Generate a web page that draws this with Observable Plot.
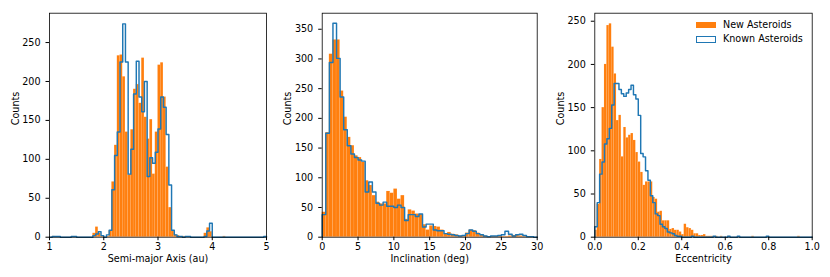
<!DOCTYPE html>
<html><head><meta charset="utf-8">
<script src="https://cdn.jsdelivr.net/npm/d3@7"></script>
<script src="https://cdn.jsdelivr.net/npm/@observablehq/plot@0.6"></script>
<style>
body{margin:0;background:#fff;}
#wrap{position:relative;width:830px;height:277px;font-family:"DejaVu Sans",sans-serif;}
#wrap svg{position:absolute;top:0;}
.lg{position:absolute;font-family:"DejaVu Sans",sans-serif;font-size:9.6px;line-height:12px;color:#000;white-space:nowrap;}
</style></head><body><div id="wrap"></div>
<script>
// ---- data ----
const seriesNames = ["New Asteroids", "Known Asteroids"];
const xLabels = ["Semi-major Axis (au)", "Inclination (deg)", "Eccentricity"];
const yLabel = "Counts";

// Semi-major axis: bins of 0.05 au starting at 1.0
const axisBinStart = 1.0, axisBinWidth = 0.05;
const axisNew = [0,1,0,0,0,0,0,0,0,0, 0,0,0,0,0,0,5,13,5,1, 0,1,8,71,118,233,234,206,135,80,
  138,190,196,172,230,154,126,151,81,135, 221,224,180,90,38,8,3,2,0,1,
  0,0,0,0,0,0,0,5,12,7, 0,0,0,0,1,0,0,0,0,0, 0,0,0,0,0,0,0,0,0,0];
const axisKnown = [0,1,1,1,0,0,0,0,1,1, 0,0,0,0,0,0,2,4,7,2, 0,3,9,61,105,135,225,274,225,81,
  113,184,226,180,161,200,78,102,95,109, 139,180,167,132,67,9,3,1,1,0,
  1,1,0,0,0,0,0,1,8,18, 0,0,0,0,0,0,0,0,0,0, 0,0,0,0,0,0,0,0,0,1];
const axisXTicks = [1,2,3,4,5];
const axisYTicks = [0,50,100,150,200,250];

// Inclination: bins of 0.5 deg starting at 0
const incBinStart = 0, incBinWidth = 0.5;
const incNew = [42,176,308,332,332,246,202,168,154,137, 134,126,95,87,70,59,56,56,77,74,
  81,64,70,30,46,44,39,38,21,12, 19,18,17,12,5,8,5,4,2,1,
  7,12,11,7,3,2,1,1,1,2, 1,1,2,3,4,2,1,1,0,0];
const incKnown = [38,175,294,360,301,236,181,154,140,134, 130,128,76,93,76,57,54,59,52,52,
  50,54,50,28,38,38,35,39,17,22, 22,12,11,11,6,5,4,3,2,3,
  6,12,10,6,4,2,1,2,2,3, 4,10,5,2,4,5,3,1,1,0];
const incXTicks = [0,5,10,15,20,25,30];
const incYTicks = [0,50,100,150,200,250,300,350];

// Eccentricity: 90 bins over [0, 1]
const eccBinStart = 0, eccBinWidth = 1/90;
const eccNew = [8,38,90,150,200,245,247,220,189,135, 141,93,127,115,118,120,112,98,87,75,
  60,64,64,64,46,44,29,30,19,19, 19,9,10,8,8,6,3,15,11,10,
  8,4,4,2,2,3,1,1,1,0, 1,0,1,0,0,1,0,0,0,0,
  0,0,0,0,0,1,0,0,0,0, 0,0,0,0,0,0,0,0,0,0, 0,0,0,0,1,0,0,0,0,0];
const eccKnown = [12,40,73,87,108,114,126,153,178,178, 171,166,163,167,171,176,165,160,141,97,
  93,77,66,48,40,27,25,15,12,10, 6,5,4,2,1,1,0,0,0,0,
  1,0,0,0,0,0,0,0,0,1, 0,0,0,0,0,1,0,0,0,1,
  0,0,0,0,0,0,0,0,0,0, 0,1,0,0,0,0,0,0,0,0, 0,0,0,0,0,0,0,0,0,0];
const eccXTicks = [0,0.2,0.4,0.6,0.8,1.0];
const eccYTicks = [0,50,100,150,200,250];

// ---- helpers ----
const ORANGE = "#ff7f0e", BLUE = "#1f77b4";
function binsOf(counts, start, w) {
  return counts.map((c, i) => ({x1: start + i * w, x2: start + (i + 1) * w, y: c})).filter(d => d.y > 0);
}
function stepOf(counts, start, w) {
  const pts = [{x: start, y: 0}];
  counts.forEach((c, i) => pts.push({x: start + i * w, y: c}));
  const end = start + counts.length * w;
  pts.push({x: end, y: counts[counts.length - 1]});
  pts.push({x: end, y: 0});
  return pts;
}
function panel(cfg) {
  const svg = Plot.plot({
    width: cfg.width, height: 277,
    marginLeft: cfg.ml, marginRight: cfg.mr, marginTop: 12.7, marginBottom: 40.3,
    style: {fontFamily: "DejaVu Sans, sans-serif", fontSize: "9.6px", background: "transparent", color: "black"},
    x: {domain: cfg.xDomain},
    y: {domain: cfg.yDomain},
    marks: [
      Plot.rectY(binsOf(cfg.newC, cfg.start, cfg.w), {x1: "x1", x2: "x2", y: "y", fill: ORANGE, stroke: "#fff", strokeOpacity: 0.18, strokeWidth: 0.4}),
      Plot.lineY(stepOf(cfg.knownC, cfg.start, cfg.w), {x: "x", y: "y", curve: "step-after", stroke: BLUE, strokeWidth: 1.45}),
      Plot.frame({stroke: "black", strokeWidth: 0.8}),
      Plot.axisX({ticks: cfg.xTicks, tickFormat: cfg.xFormat, tickSize: 3.5, tickPadding: 2, label: null, fontSize: 9.6}),
      Plot.axisY({ticks: cfg.yTicks, tickFormat: d3.format("d"), tickSize: 3.5, tickPadding: 5.5, label: null, fontSize: 9.6}),
      Plot.text([cfg.xLabel], {text: d => d, frameAnchor: "bottom", dy: 24.5, fontSize: 9.6}),
      Plot.text([yLabel], {text: d => d, frameAnchor: "left", dx: -34, rotate: -90, fontSize: 9.6})
    ]
  });
  svg.style.left = cfg.left + "px";
  return svg;
}

const wrap = document.getElementById("wrap");
wrap.appendChild(panel({left: 0, width: 277, ml: 49, mr: 11, xDomain: [1, 5], yDomain: [0, 287.7],
  start: axisBinStart, w: axisBinWidth, newC: axisNew, knownC: axisKnown,
  xTicks: axisXTicks, yTicks: axisYTicks, xFormat: d3.format("d"), xLabel: xLabels[0]}));
wrap.appendChild(panel({left: 277, width: 277, ml: 44.7, mr: 17.3, xDomain: [0, 30], yDomain: [0, 377],
  start: incBinStart, w: incBinWidth, newC: incNew, knownC: incKnown,
  xTicks: incXTicks, yTicks: incYTicks, xFormat: d3.format("d"), xLabel: xLabels[1]}));
wrap.appendChild(panel({left: 554, width: 276, ml: 40.3, mr: 18.3, xDomain: [0, 1], yDomain: [0, 259.3],
  start: eccBinStart, w: eccBinWidth, newC: eccNew, knownC: eccKnown,
  xTicks: eccXTicks, yTicks: eccYTicks, xFormat: d3.format(".1f"), xLabel: xLabels[2]}));

// legend (inside third panel, top right)
function addDiv(style, text) {
  const d = document.createElement("div");
  d.className = "lg";
  Object.assign(d.style, style);
  if (text) d.textContent = text;
  wrap.appendChild(d);
}
addDiv({left: "696px", top: "21.7px", width: "20px", height: "6.7px", background: ORANGE});
addDiv({left: "696px", top: "35.7px", width: "20px", height: "7px", border: "1.4px solid " + BLUE, boxSizing: "border-box"});
addDiv({left: "723px", top: "19px"}, seriesNames[0]);
addDiv({left: "723px", top: "33.3px"}, seriesNames[1]);
</script></body></html>
